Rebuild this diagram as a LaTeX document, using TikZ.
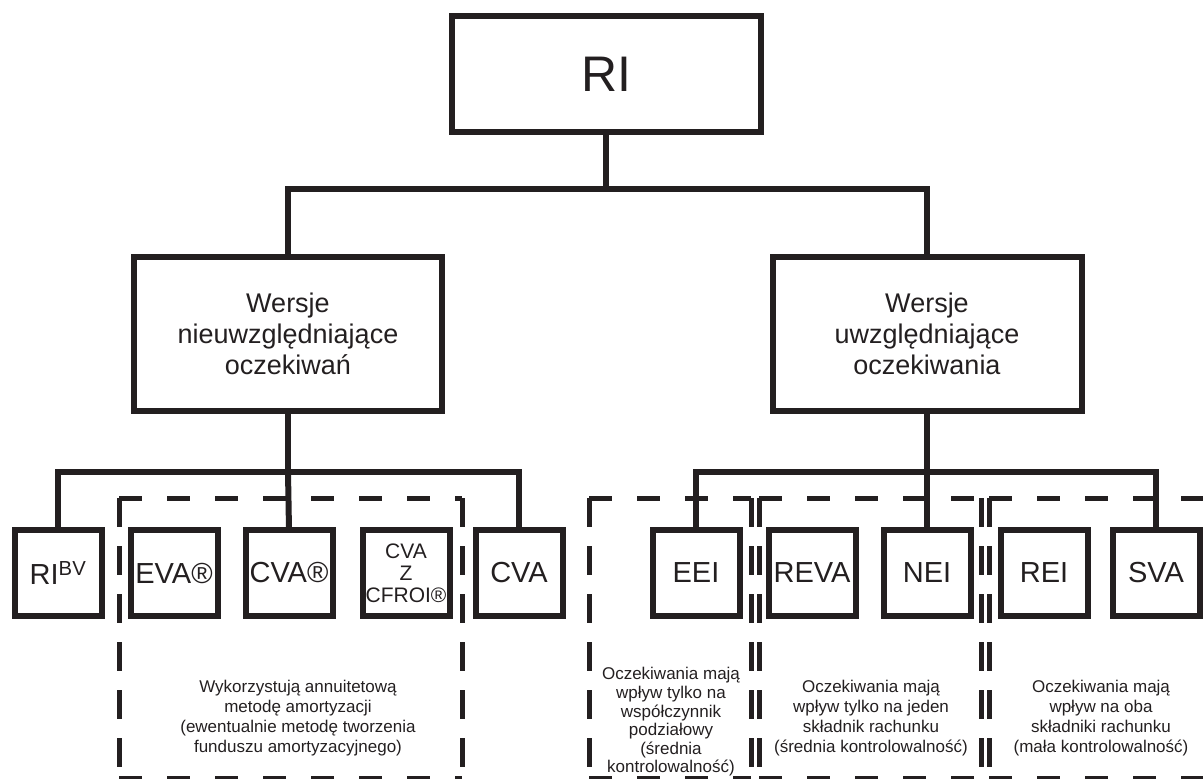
\documentclass[tikz,border=0pt]{standalone}
\usepackage{fontspec}
\setmainfont{Liberation Sans}
\begin{document}
\begin{tikzpicture}[x=1pt,y=-1pt,
	box/.style={draw=ink,line width=6pt,outer sep=0pt,inner sep=0pt,text=ink,align=center},
	leaf/.style={box,minimum width=87pt,minimum height=86pt,font=\fontsize{29}{31}\selectfont},
	conn/.style={draw=ink,line width=6pt},
	hdash/.style={draw=ink,line width=5pt,dash pattern=on 23pt off 25pt},
	vdash/.style={draw=ink,line width=5pt,dash pattern=on 29pt off 19pt},
	note/.style={text=ink,align=center,font=\fontsize{17}{20}\selectfont}]
\definecolor{ink}{RGB}{35,31,32}

	\useasboundingbox (0,0) rectangle (1203,779);

	% dashed frames round the groups
	\foreach \xa/\xb in {119/462,589/751,759/981,989/1215}{
		\draw[hdash] (\xa,498) -- (\xb,498);
		\draw[hdash] (\xa,778) -- (\xb,778);
		\draw[vdash] (\xa,498) -- (\xa,778);
		\draw[vdash] (\xb,498) -- (\xb,778);
	}

	\node[box,minimum width=309pt,minimum height=116pt,font=\fontsize{50}{50}\selectfont] (ri) at (606,74){RI};
	\node[box,minimum width=308pt,minimum height=154pt,font=\fontsize{27}{31}\selectfont] (nw) at (288,334){Wersje\\nieuwzględniające\\oczekiwań};
	\node[box,minimum width=309pt,minimum height=154pt,font=\fontsize{27}{31}\selectfont] (uw) at (927,334){Wersje\\uwzględniające\\oczekiwania};

	\node[leaf] (ribv) at (58,573){RI\textsuperscript{BV}};
	\node[leaf] (eva) at (174,573){EVA®};
	\node[leaf] (cvar) at (289,573){CVA®};
	\node[leaf,font=\fontsize{21}{22}\selectfont] (cfroi) at (406,573){CVA\\Z\\CFROI®};
	\node[leaf] (cva) at (519,573){CVA};

	\node[leaf] (eei) at (696,573){EEI};
	\node[leaf] (reva) at (812,573){REVA};
	\node[leaf] (nei) at (927,573){NEI};
	\node[leaf] (rei) at (1044,573){REI};
	\node[leaf] (sva) at (1156,573){SVA};

	% tree connectors
	\coordinate (jtop) at (606,189);
	\coordinate (jl) at (288,472);
	\coordinate (jr) at (927,472);
	\draw[conn] (ri.south) -- (jtop);
	\draw[conn] (nw.north) |- (jtop) -| (uw.north);
	\draw[conn] (nw.south) -- (jl);
	\draw[conn] (ribv.north) |- (jl) -| (cva.north);
	\draw[conn] (jl) -- (cvar.north);
	\draw[conn] (uw.south) -- (jr);
	\draw[conn] (eei.north) |- (jr) -| (sva.north);
	\draw[conn] (jr) -- (nei.north);

	\node[note] (nl) at (298,718){Wykorzystują annuitetową\\metodę amortyzacji\\(ewentualnie metodę tworzenia\\funduszu amortyzacyjnego)};
	\node[note,font=\fontsize{17}{18.6}\selectfont] (n1) at (671,722){Oczekiwania mają\\wpływ tylko na\\współczynnik\\podziałowy\\(średnia\\kontrolowalność)};
	\node[note] (n2) at (871,718){Oczekiwania mają\\wpływ tylko na jeden\\składnik rachunku\\(średnia kontrolowalność)};
	\node[note] (n3) at (1101,718){Oczekiwania mają\\wpływ na oba\\składniki rachunku\\(mała kontrolowalność)};

\end{tikzpicture}
\end{document}
